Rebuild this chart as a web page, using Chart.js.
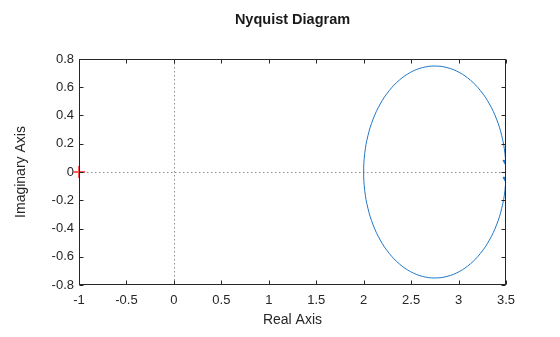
<!DOCTYPE html>
<html lang="en">
<head>
    <meta charset="UTF-8">
    <title>Nyquist Diagram</title>
    <script src="https://cdn.jsdelivr.net/npm/chart.js"></script>
    <style>
        html, body { margin: 0; padding: 0; background: #fff; }
        #wrap { width: 560px; height: 337px; position: relative; }
    </style>
</head>
<body>
    <div id="wrap"><canvas id="nyquist"></canvas></div>

    <script>
        // Nyquist curve (closed loop, real / imaginary)
        const reParts = [3.500, 3.489, 3.455, 3.400, 3.325, 3.232, 3.125, 3.007, 2.880, 2.750,
                         2.620, 2.493, 2.375, 2.268, 2.175, 2.100, 2.045, 2.011, 2.000,
                         2.011, 2.045, 2.100, 2.175, 2.268, 2.375, 2.493, 2.620, 2.750,
                         2.880, 3.007, 3.125, 3.232, 3.325, 3.400, 3.455, 3.489, 3.500];
        const imParts = [0.000, 0.130, 0.257, 0.375, 0.482, 0.575, 0.650, 0.705, 0.739, 0.750,
                         0.739, 0.705, 0.650, 0.575, 0.482, 0.375, 0.257, 0.130, 0.000,
                         -0.130, -0.257, -0.375, -0.482, -0.575, -0.650, -0.705, -0.739, -0.750,
                         -0.739, -0.705, -0.650, -0.575, -0.482, -0.375, -0.257, -0.130, 0.000];

        // direction arrows near the real axis
        const arrowRe = [3.5, 3.5];
        const arrowIm = [0.07, -0.05];

        // critical point
        const critRe = [-1];
        const critIm = [0];

        const xTicks = [-1, -0.5, 0, 0.5, 1, 1.5, 2, 2.5, 3, 3.5];
        const yTicks = [-0.8, -0.6, -0.4, -0.2, 0, 0.2, 0.4, 0.6, 0.8];

        const FONT = "'Liberation Sans', Arial, Helvetica, sans-serif";
        const BLUE = '#1f77c8';

        const pts = (xs, ys) => xs.map((x, i) => ({ x: x, y: ys[i] }));

        // frame, inward ticks, dotted zero lines and the title
        const framePlugin = {
            id: 'frame',
            beforeDatasetsDraw(chart) {
                const { ctx, chartArea: a, scales } = chart;
                ctx.save();
                ctx.strokeStyle = '#8c8c8c';
                ctx.lineWidth = 1;
                ctx.setLineDash([1.5, 2.5]);
                const x0 = Math.round(scales.x.getPixelForValue(0)) + 0.5;
                const y0 = Math.round(scales.y.getPixelForValue(0)) + 0.5;
                ctx.beginPath();
                ctx.moveTo(x0, a.top); ctx.lineTo(x0, a.bottom);
                ctx.moveTo(a.left, y0); ctx.lineTo(a.right, y0);
                ctx.stroke();
                ctx.restore();
            },
            afterDraw(chart) {
                const { ctx, chartArea: a, scales } = chart;
                ctx.save();
                ctx.strokeStyle = '#262626';
                ctx.lineWidth = 1;
                const L = Math.round(a.left) + 0.5, R = Math.round(a.right) - 0.5;
                const T = Math.round(a.top) + 0.5, B = Math.round(a.bottom) - 0.5;
                ctx.strokeRect(L, T, R - L, B - T);
                ctx.beginPath();
                xTicks.forEach(v => {
                    const px = Math.round(scales.x.getPixelForValue(v)) + 0.5;
                    ctx.moveTo(px, B); ctx.lineTo(px, B - 4);
                    ctx.moveTo(px, T); ctx.lineTo(px, T + 4);
                });
                yTicks.forEach(v => {
                    const py = Math.round(scales.y.getPixelForValue(v)) + 0.5;
                    ctx.moveTo(L, py); ctx.lineTo(L + 4, py);
                    ctx.moveTo(R, py); ctx.lineTo(R - 4, py);
                });
                ctx.stroke();

                ctx.fillStyle = '#1a1a1a';
                ctx.font = 'bold 14.5px ' + FONT;
                ctx.textAlign = 'center';
                ctx.textBaseline = 'middle';
                ctx.fillText('Nyquist Diagram', (a.left + a.right) / 2, 20);
                ctx.restore();
            }
        };

        new Chart(document.getElementById('nyquist'), {
            type: 'scatter',
            data: {
                datasets: [
                    {
                        data: pts(reParts, imParts),
                        showLine: true,
                        borderColor: BLUE,
                        borderWidth: 1,
                        pointRadius: 0,
                        tension: 0.4
                    },
                    {
                        data: pts(arrowRe, arrowIm),
                        pointStyle: 'triangle',
                        rotation: 180,
                        pointRadius: 3.5,
                        backgroundColor: BLUE,
                        borderColor: BLUE,
                        borderWidth: 1
                    },
                    {
                        data: pts(critRe, critIm),
                        pointStyle: 'cross',
                        pointRadius: 6,
                        borderColor: '#ff5a5a',
                        borderWidth: 2,
                        clip: false
                    }
                ]
            },
            options: {
                responsive: true,
                maintainAspectRatio: false,
                animation: false,
                layout: { padding: { top: 59, right: 54, left: 0, bottom: 0 } },
                plugins: {
                    legend: { display: false },
                    tooltip: { enabled: false }
                },
                scales: {
                    x: {
                        type: 'linear',
                        min: -1, max: 3.5,
                        afterFit: s => { s.height = 52; },
                        afterBuildTicks: s => { s.ticks = xTicks.map(v => ({ value: v })); },
                        grid: { display: false, drawTicks: false, tickLength: 0 },
                        border: { display: false },
                        ticks: {
                            padding: 8,
                            color: '#262626',
                            font: { family: FONT, size: 13 },
                            maxRotation: 0,
                            callback: v => String(v)
                        },
                        title: {
                            display: true,
                            text: 'Real Axis',
                            color: '#262626',
                            padding: { top: 0, bottom: 8 },
                            font: { family: FONT, size: 14 }
                        }
                    },
                    y: {
                        type: 'linear',
                        min: -0.8, max: 0.8,
                        afterFit: s => { s.width = 79; },
                        afterBuildTicks: s => { s.ticks = yTicks.map(v => ({ value: v })); },
                        grid: { display: false, drawTicks: false, tickLength: 0 },
                        border: { display: false },
                        ticks: {
                            padding: 5,
                            color: '#262626',
                            font: { family: FONT, size: 13 },
                            callback: v => String(v)
                        },
                        title: {
                            display: true,
                            text: 'Imaginary Axis',
                            color: '#262626',
                            padding: { top: 13, bottom: 0 },
                            font: { family: FONT, size: 14 }
                        }
                    }
                }
            },
            plugins: [framePlugin]
        });
    </script>
</body>
</html>
